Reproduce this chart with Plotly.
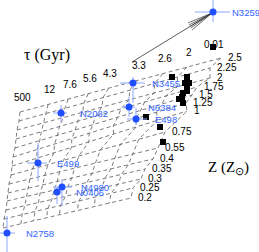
import numpy as np
import plotly.graph_objects as go

# ---- model grid (tau lines x Z lines), in index-plane coordinates ----
tau_labels = ['500', '12', '7.6', '5.6', '4.3', '3.3', '2.6', '2']
tau_frac = [0.0, 0.14, 0.24, 0.34, 0.44, 0.58, 0.71, 0.83, 1.0]
z_labels = ['2.5', '2.25', '2', '1.75', '1.5', '1.25', '1', '0.75', '0.55',
            '0.4', '0.35', '0.3', '0.25', '0.2']
z_left_x = [20, 19, 17, 16, 15, 13, 12, 11, 9, 8, 7, 6, 4, 3]
z_left_y = [112, 121, 130, 139, 148, 157, 166, 175, 184, 193, 201, 210, 219, 228]
z_right_x = [221, 210, 210, 197, 192, 186, 187, 165, 158, 153, 145, 141, 133, 131]
z_right_y = [58, 68, 78, 87, 95, 103, 111, 132, 148, 159, 169, 179, 188, 198]

# ---- galaxies (blue, with error bars) ----
gal_names = ['N3259', 'N3455', 'N6384', 'E498', 'N2082', 'E499', 'N4980', 'N0406', 'N2758']
gal_x = [213, 133, 129, 136, 61, 38, 62, 57, 7]
gal_y = [12, 83, 107, 119, 113, 163, 187, 192, 233]
gal_ex_minus = [18, 13, 7, 9, 8, 11, 9, 4, 7]
gal_ex_plus = [17, 12, 6, 11, 6, 9, 10, 4, 8]
gal_ey_up = [14, 6, 10, 11, 8, 20, 8, 5, 17]
gal_ey_down = [10, 20, 10, 6, 9, 18, 19, 12, 19]

# ---- black squares (other sample) ----
sq_x = [213, 172, 187, 187, 185, 189, 187, 187, 183, 182, 179, 183, 146, 160, 163]
sq_y = [47, 77, 77, 82, 83, 83, 87, 91, 93, 97, 99, 103, 117, 127, 142]

# ---- arrow ----
arrow_from = (132, 62)
arrow_to = (212, 13)

nz = len(z_labels)
nt = len(tau_frac)
X = np.zeros((nz, nt))
Y = np.zeros((nz, nt))
for i in range(nz):
    for j, f in enumerate(tau_frac):
        X[i, j] = z_left_x[i] + f * (z_right_x[i] - z_left_x[i])
        Y[i, j] = z_left_y[i] + f * (z_right_y[i] - z_left_y[i])

fig = go.Figure()
grid_style = dict(color='#5a5a5a', width=0.8, dash='4px,3px')

zx, zy = [], []
for i in range(nz):
    zx += list(X[i]) + [None]
    zy += list(Y[i]) + [None]
fig.add_trace(go.Scatter(x=zx, y=zy, mode='lines', line=grid_style, hoverinfo='skip'))

tx, ty = [], []
for j in range(nt):
    tx += list(X[:, j]) + [None]
    ty += list(Y[:, j]) + [None]
fig.add_trace(go.Scatter(x=tx, y=ty, mode='lines', line=grid_style, hoverinfo='skip'))

# arrow shaft + open head fan
ax_, ay_ = arrow_from
bx_, by_ = arrow_to
fig.add_trace(go.Scatter(x=[ax_, bx_], y=[ay_, by_], mode='lines',
                         line=dict(color='#333333', width=0.8), hoverinfo='skip'))
ang = np.arctan2(ay_ - by_, ax_ - bx_)
hx, hy = [], []
for d in [-9, -4, 0, 4, 9]:
    a = ang + np.deg2rad(d)
    hx += [bx_, bx_ + 26 * np.cos(a), None]
    hy += [by_, by_ + 26 * np.sin(a), None]
fig.add_trace(go.Scatter(x=hx, y=hy, mode='lines',
                         line=dict(color='#333333', width=0.7), hoverinfo='skip'))

# black squares
fig.add_trace(go.Scatter(x=sq_x, y=sq_y, mode='markers',
                         marker=dict(symbol='square', size=6, color='black'),
                         hoverinfo='skip'))

# galaxies
fig.add_trace(go.Scatter(
    x=gal_x, y=gal_y, mode='markers',
    marker=dict(size=7, color='#1f4fff'),
    error_x=dict(type='data', symmetric=False, array=gal_ex_plus, arrayminus=gal_ex_minus,
                 color='#8fa8ff', thickness=1, width=0),
    error_y=dict(type='data', symmetric=False, array=gal_ey_down, arrayminus=gal_ey_up,
                 color='#8fa8ff', thickness=1, width=0),
    hoverinfo='skip'))

annotations = []
for n, x, y in zip(gal_names, gal_x, gal_y):
    annotations.append(dict(x=x, y=y, text=n, showarrow=False, xanchor='left', yanchor='middle',
                            xshift=17, font=dict(family='Liberation Sans', size=9.5, color='#3366ff')))
for lab, j in zip(tau_labels, range(len(tau_labels))):
    annotations.append(dict(x=X[0, j], y=Y[0, j], text=lab, showarrow=False, xanchor='center',
                            yanchor='middle', xshift=2, yshift=15,
                            font=dict(family='Liberation Sans', size=10, color='black')))
for i, lab in enumerate(z_labels):
    annotations.append(dict(x=z_right_x[i], y=z_right_y[i], text=lab, showarrow=False,
                            xanchor='left', yanchor='middle', xshift=5, yshift=1,
                            font=dict(family='Liberation Sans', size=10, color='black')))
annotations.append(dict(x=sq_x[0], y=sq_y[0], text='0.01', showarrow=False, xanchor='center',
                        yanchor='middle', yshift=3, xshift=1,
                        font=dict(family='Liberation Sans', size=10, color='black')))
annotations.append(dict(x=47, y=55, text='τ (Gyr)', showarrow=False,
                        font=dict(family='Liberation Serif', size=16, color='black')))
annotations.append(dict(x=228, y=168, text='Z (Z<sub>⊙</sub>)', showarrow=False,
                        font=dict(family='Liberation Serif', size=15, color='black')))

fig.update_layout(
    width=259, height=252, margin=dict(l=0, r=0, t=0, b=0),
    paper_bgcolor='white', plot_bgcolor='white', showlegend=False,
    xaxis=dict(range=[0, 259], visible=False, fixedrange=True),
    yaxis=dict(range=[252, 0], visible=False, fixedrange=True),
    annotations=annotations,
)
fig.write_html('out.html', config={'displayModeBar': False},
               post_script="document.body.style.margin='0';document.body.style.overflow='hidden';")
